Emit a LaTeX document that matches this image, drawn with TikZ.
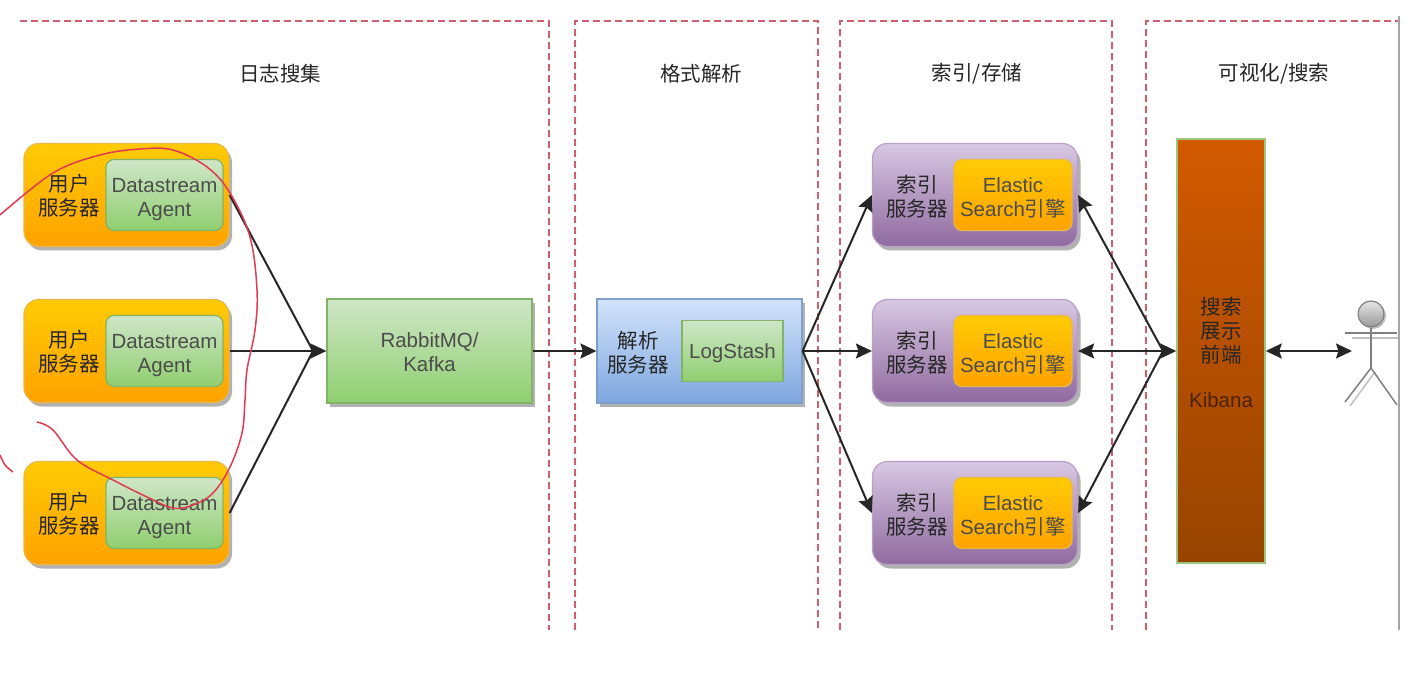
\documentclass[tikz,border=0pt]{standalone}
\usepackage{fontspec}
\setmainfont{Liberation Sans}
\newfontfamily\cjk{Noto Sans CJK SC}
\usetikzlibrary{arrows.meta,shadows}
\definecolor{frameRed}{HTML}{CF5F6C}
\definecolor{markRed}{HTML}{E23A50}
\definecolor{orangeTop}{HTML}{FFCB05}
\definecolor{orangeBot}{HTML}{FFA200}
\definecolor{orangeLine}{HTML}{E8B84A}
\definecolor{greenTop}{HTML}{CFE6C8}
\definecolor{greenBot}{HTML}{8FCF6F}
\definecolor{greenLine}{HTML}{82B366}
\definecolor{blueTop}{HTML}{D3E4FB}
\definecolor{blueBot}{HTML}{7EA6E0}
\definecolor{blueLine}{HTML}{7F9FCB}
\definecolor{purpleTop}{HTML}{D8C8E2}
\definecolor{purpleBot}{HTML}{8F6AA0}
\definecolor{purpleLine}{HTML}{B9A0C8}
\definecolor{kibanaTop}{HTML}{D25A00}
\definecolor{kibanaBot}{HTML}{974400}
\definecolor{kibanaLine}{HTML}{9DC67F}
\tikzset{
  label font/.style={font=\fontsize{20.5}{24}\selectfont,align=center,inner sep=0pt,text=black!85},
  box shadow/.style={drop shadow={shadow xshift=3pt,shadow yshift=-4pt,fill=black!30,opacity=1}},
  user box/.style={line width=1.2pt,rounded corners=15pt,minimum width=205pt,minimum height=103pt,box shadow},
  inner box/.style={line width=1.2pt,rounded corners=8pt,minimum width=117pt,minimum height=71pt,label font,text=black!70},
  orange fill/.style={draw=orangeLine,top color=orangeTop,bottom color=orangeBot},
  green fill/.style={draw=greenLine,top color=greenTop,bottom color=greenBot},
  dash frame/.style={draw=frameRed,line width=1.2pt,dash pattern=on 7pt off 4pt},
  link line/.style={black!85,line width=2pt},
  link/.style={link line,-{Stealth[length=16pt,width=15pt,inset=2.5pt]}},
  both link/.style={link line,{Stealth[length=16pt,width=15pt,inset=2.5pt]}-{Stealth[length=16pt,width=15pt,inset=2.5pt]}},
  back link/.style={link line,{Stealth[length=16pt,width=15pt,inset=2.5pt]}-},
  actor line/.style={black!50,line width=1.5pt},
  actor ghost/.style={black!25,line width=1.5pt},
  mark line/.style={markRed,line width=1.5pt}
}
\begin{document}
\begin{tikzpicture}[x=1pt,y=-1pt]
  \useasboundingbox[fill=white] (0,0) rectangle (1418,692);
  \draw[dash frame] (20,21) -- (549,21) -- (549,630);
  \draw[dash frame] (575,630) -- (575,21) -- (818,21) -- (818,630);
  \draw[dash frame] (840,630) -- (840,21) -- (1112,21) -- (1112,630);
  \draw[dash frame] (1146,630) -- (1146,21) -- (1398,21);
  \draw[black!35,line width=1.5pt] (1399,16) -- (1399,630);

  \node[label font] (title1) at (280,74) {\cjk 日志搜集};
  \node[label font] (title2) at (701,74) {\cjk 格式解析};
  \node[label font] (title3) at (977,74) {\cjk 索引/存储};
  \node[label font] (title4) at (1274,74) {\cjk 可视化/搜索};

  \begin{scope}[every node/.append style={user box,orange fill}]
    \node (user1) at (126.5,195) {};
    \node (user2) at (126.5,351) {};
    \node (user3) at (126.5,513) {};
  \end{scope}
  \begin{scope}[every node/.append style={inner box,green fill,text height=47pt}]
    \node (agent1) at (164.5,195) {Datastream\\Agent};
    \node (agent2) at (164.5,351) {Datastream\\Agent};
    \node (agent3) at (164.5,513) {Datastream\\Agent};
  \end{scope}
  \node[label font] (userlabel1) at (69,196) {\cjk 用户\\\cjk 服务器};
  \node[label font] (userlabel2) at (69,352) {\cjk 用户\\\cjk 服务器};
  \node[label font] (userlabel3) at (69,514) {\cjk 用户\\\cjk 服务器};

  \node[label font,text=black!70,green fill,line width=1.2pt,text height=41pt,minimum width=205pt,minimum height=104pt,box shadow] (queue) at (429.5,351) {RabbitMQ/\\Kafka};

  \node[draw=blueLine,line width=1.2pt,top color=blueTop,bottom color=blueBot,minimum width=205pt,minimum height=104pt,box shadow] (parser) at (699.5,351) {};
  \node[label font] (parserlabel) at (638,353) {\cjk 解析\\\cjk 服务器};
  \node[label font,text=black!70,green fill,line width=1.2pt,text height=19pt,minimum width=101pt,minimum height=61pt] (logstash) at (732.5,351) {LogStash};

  \begin{scope}[every node/.append style={user box,draw=purpleLine,top color=purpleTop,bottom color=purpleBot}]
    \node (index1) at (975,195) {};
    \node (index2) at (975,351) {};
    \node (index3) at (975,513) {};
  \end{scope}
  \begin{scope}[every node/.append style={inner box,orange fill,minimum width=118pt,text height=45pt}]
    \node (engine1) at (1013,195) {Elastic\\Search{\cjk 引擎}};
    \node (engine2) at (1013,351) {Elastic\\Search{\cjk 引擎}};
    \node (engine3) at (1013,513) {Elastic\\Search{\cjk 引擎}};
  \end{scope}
  \node[label font] (indexlabel1) at (917,197) {\cjk 索引\\\cjk 服务器};
  \node[label font] (indexlabel2) at (917,353) {\cjk 索引\\\cjk 服务器};
  \node[label font] (indexlabel3) at (917,515) {\cjk 索引\\\cjk 服务器};

  \node[label font,draw=kibanaLine,line width=1.5pt,top color=kibanaTop,bottom color=kibanaBot,text height=114pt,minimum width=88pt,minimum height=424pt] (kibana) at (1221,351) {\cjk 搜索\\\cjk 展示\\\cjk 前端\\[21pt]\textcolor{black!50!kibanaBot}{Kibana}};

  \node[circle,draw=black!50,line width=1.2pt,minimum size=26pt,inner sep=0pt,top color=black!10,bottom color=black!40,drop shadow={shadow xshift=2pt,shadow yshift=-2pt,fill=black!25,opacity=1}] (head) at (1371,314) {};
  \coordinate (hip) at (1371,368);
  \coordinate (armL) at (1345,333);
  \coordinate (armR) at (1397,333);
  \coordinate (footL) at (1345,402);
  \coordinate (footR) at (1397,405);
  \coordinate (actor) at (1352,351);
  \coordinate (queuejoin) at (313,351);
  \coordinate (kibanajoin) at (1163,351);
  \draw[actor ghost] (1352,338) -- (1398,338);
  \draw[actor ghost] (1375,372) -- (1350,406);
  \draw[actor line] (head) -- (hip);
  \draw[actor line] (armL) -- (armR);
  \draw[actor line] (hip) -- (footL);
  \draw[actor line] (hip) -- (footR);

  \begin{scope}[link line]
    \draw (user1.east) to (queuejoin);
    \draw (user3.east) to (queuejoin);
  \end{scope}
  \begin{scope}[link]
    \draw (user2.east) to (queue.west);
    \draw (queue.east) to (parser.west);
    \draw (parser.east) to (index1.west);
    \draw (parser.east) to (index2.west);
    \draw (parser.east) to (index3.west);
  \end{scope}
  \begin{scope}[back link]
    \draw (index1.east) to (kibanajoin);
    \draw (index3.east) to (kibanajoin);
  \end{scope}
  \begin{scope}[both link]
    \draw (index2.east) to (kibana.west);
    \draw (kibana.east) to (actor);
  \end{scope}

  \draw[mark line] plot[smooth,tension=0.6] coordinates {(0,215) (53,173) (100,155) (140,149) (173,150) (207,167) (230,193) (250,237) (257,290) (255,330) (247,370) (245,400) (242,433) (230,467) (213,493) (193,505) (173,508) (147,497) (113,480) (77,460) (53,430) (37,422)};
  \draw[mark line] plot[smooth] coordinates {(0,455) (5,465) (13,472)};
\end{tikzpicture}
\end{document}
